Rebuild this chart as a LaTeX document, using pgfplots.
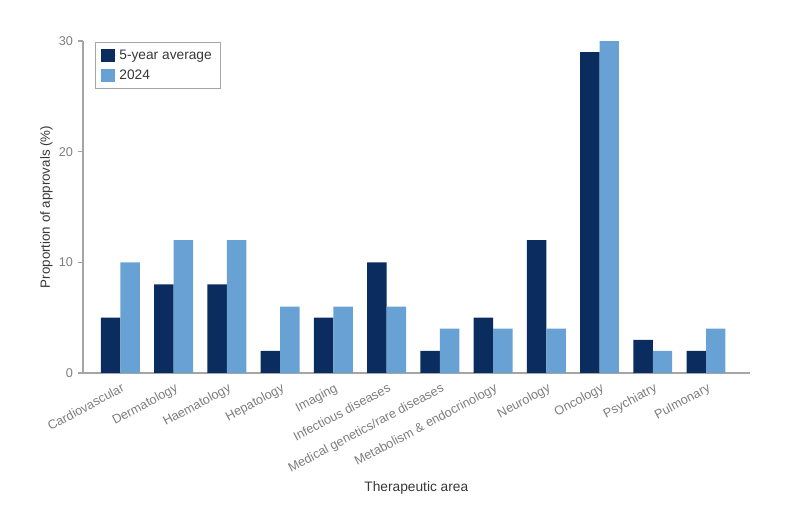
\documentclass[border=0pt]{standalone}
\usepackage{fontspec}
\setmainfont{Liberation Sans}
\usepackage{pgfplots}
\pgfplotsset{compat=1.18}
\definecolor{navy}{RGB}{10,44,94}
\definecolor{lightb}{RGB}{104,161,211}
\definecolor{tickgray}{RGB}{125,125,125}
\definecolor{axgray}{RGB}{165,165,165}
\definecolor{labgray}{RGB}{55,55,55}
\begin{document}
\begin{tikzpicture}
\path[use as bounding box] (-62.25pt,-102.75pt) rectangle (537.75pt,279.75pt);
\begin{axis}[
  at={(0pt,0pt)}, anchor=south west,
  scale only axis, width=500pt, height=249pt,
  xmin=-0.7, xmax=11.82, ymin=0, ymax=30,
  axis x line*=bottom, axis y line*=left,
  axis line style={axgray, line width=0.8pt},
  xtick={0,1,2,3,4,5,6,7,8,9,10,11},
  xticklabels={Cardiovascular, Dermatology, Haematology, Hepatology, Imaging, Infectious diseases, Medical genetics/rare diseases, Metabolism \& endocrinology, Neurology, Oncology, Psychiatry, Pulmonary},
  x tick label style={rotate=28, anchor=north east, font=\fontsize{9.5}{11}\selectfont, text=tickgray, inner sep=1pt, yshift=-2pt},
  xtick style={draw=none},
  ytick={0,10,20,30},
  y tick label style={font=\fontsize{9.5}{11}\selectfont, text=tickgray},
  ytick style={axgray, line width=0.8pt},
  tick align=outside, major tick length=4pt,
  /pgf/number format/assume math mode=true,
  ybar, bar width=0.366,
  xlabel={Therapeutic area},
  ylabel={Proportion of approvals (\%)},
  xlabel style={at={(rel axis cs:0.5,-0.345)}, anchor=center, font=\fontsize{10.3}{12}\selectfont, text=labgray},
  ylabel style={at={(rel axis cs:-0.055,0.5)}, anchor=center, font=\fontsize{10}{12}\selectfont, text=labgray},
  legend style={at={(rel axis cs:0,1)}, anchor=north west, xshift=9pt, yshift=-1pt, draw=axgray, line width=0.6pt, font=\fontsize{10.3}{12}\selectfont, text=labgray, inner xsep=4.5pt, inner ysep=3.5pt, row sep=2pt},
  legend cell align=left,
  legend image code/.code={\path (0pt,0pt) -- (11.5pt,0pt); \fill[#1] (0pt,-5pt) rectangle (10pt,5pt);},
]
\addplot[fill=navy, draw=none, bar shift=-0.183] coordinates {
  (0,5) (1,8) (2,8) (3,2) (4,5) (5,10) (6,2) (7,5) (8,12) (9,29) (10,3) (11,2)};
\addlegendentry{5-year average}
\addplot[fill=lightb, draw=none, bar shift=0.183] coordinates {
  (0,10) (1,12) (2,12) (3,6) (4,6) (5,6) (6,4) (7,4) (8,4) (9,30) (10,2) (11,4)};
\addlegendentry{2024}
\end{axis}
\end{tikzpicture}
\end{document}
